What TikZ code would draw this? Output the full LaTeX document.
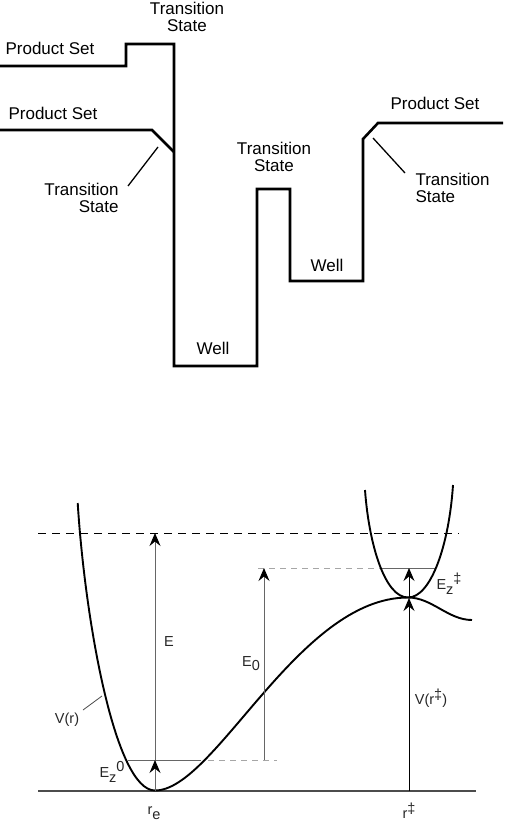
\documentclass[tikz,border=0pt]{standalone}
\usepackage{fontspec}
\setmainfont{Liberation Sans}
\usetikzlibrary{arrows.meta}
\begin{document}
\begin{tikzpicture}[x=1pt,y=-1pt,
  lbl/.style={font=\fontsize{17}{17.5}\selectfont, inner sep=0pt, align=center},
  slbl/.style={font=\fontsize{14.5}{15}\selectfont, inner sep=0pt, text=black!85},
  level/.style={line width=2.6pt, line join=miter},
  leader/.style={line width=1.3pt},
  curve/.style={line width=1.9pt},
  tip/.style={-{Stealth[length=13pt,width=11pt,inset=4.5pt,color=black]}},
  garr/.style={tip, line width=0.9pt, draw=black!60},
  barr/.style={tip, line width=0.9pt, draw=black},
  glevel/.style={line width=1pt, draw=black!60},
  gdash/.style={line width=1pt, draw=black!35, dash pattern=on 6pt off 5pt}]
\useasboundingbox (0,0) rectangle (505,826);

% ---------- top diagram ----------
\draw[level] (0,66) -- (126,66) -- (126,44) -- (174,44) -- (174,366) -- (257,366)
  -- (257,189) -- (290,189) -- (290,281) -- (363,281) -- (363,139) -- (378,123) -- (503,123);
\draw[level] (0,130) -- (152,130) -- (174,152);

\node[lbl] (ps1) at (50,48) {Product Set};
\node[lbl] (ps2) at (53,113) {Product Set};
\node[lbl] (ps3) at (435,103) {Product Set};
\node[lbl] (ts1) at (187,17) {Transition\\State};
\node[lbl, align=right] (ts2) at (81.5,198) {Transition\\State};
\node[lbl] (ts3) at (274,157) {Transition\\State};
\node[lbl, align=left] (ts4) at (452.5,188) {Transition\\State};
\node[lbl] (w1) at (213,348) {Well};
\node[lbl] (w2) at (327,265) {Well};

\coordinate (la1) at (158,147);
\coordinate (lb1) at (128,186);
\coordinate (la2) at (373,138);
\coordinate (lb2) at (405,173);
\draw[leader] (la1) -- (lb1);
\draw[leader] (la2) -- (lb2);

% ---------- bottom diagram ----------
\coordinate (ax0) at (38,791);
\coordinate (ax1) at (476,791);
\draw[line width=1.4pt, draw=black!70] (ax0) -- (ax1);
\draw[line width=1pt, dash pattern=on 8pt off 6pt] (38,533) -- (459,533);

% levels
\draw[glevel] (128,760) -- (201,760);
\draw[gdash] (208,760) -- (277,760);
\draw[gdash] (258,568) -- (382,568);
\draw[glevel] (382,568) -- (435,568);

% potential curve
\coordinate (vtop) at (77.7,503);
\coordinate (vmin) at (155,790.5);
\coordinate (vmax) at (408,597.5);
\coordinate (vend) at (472,620);
\draw[curve] (vtop) .. controls (85,620) and (115,790.5) .. (vmin)
  .. controls (215,790.5) and (298,597.5) .. (vmax)
  .. controls (432,597.5) and (448,620) .. (vend);
% upper well
\coordinate (utl) at (365,490);
\coordinate (utr) at (453,485);
\draw[curve] (utl) .. controls (369,545) and (385,597.5) .. (vmax)
  .. controls (431,597.5) and (449,545) .. (utr);

% arrows
\coordinate (re) at (155,791);
\coordinate (ez0) at (155,760);
\coordinate (etop) at (155,533);
\coordinate (e0a) at (264,760);
\coordinate (e0b) at (264,568);
\coordinate (rt) at (409,791);
\coordinate (vt) at (409,598);
\coordinate (vz) at (409,568);
\draw[garr] (re) -- (ez0);
\draw[garr] (ez0) -- (etop);
\draw[garr] (e0a) -- (e0b);
\draw[barr] (rt) -- (vt);
\draw[barr] (vt) -- (vz);

% labels
\node[slbl] (lE) at (169,642) {E};
\node[slbl] (lE0) at (251,664) {E\raisebox{-4pt}{0}};
\node[slbl] (lV) at (67,720) {V(r)};
\draw[line width=0.8pt, draw=black!70] (83,710) -- (102,696);
\node[slbl] (lEz0) at (112,772) {E\raisebox{-5pt}{z}\raisebox{6pt}{0}};
\node[slbl] (lEzt) at (449,584) {E\raisebox{-5pt}{z}\raisebox{6pt}{‡}};
\node[slbl] (lVr) at (431,698) {V(r\raisebox{5pt}{‡})};
\node[slbl] (lre) at (154,813) {r\raisebox{-5pt}{e}};
\node[slbl] (lrt) at (409,811) {r\raisebox{5pt}{‡}};
\end{tikzpicture}
\end{document}
